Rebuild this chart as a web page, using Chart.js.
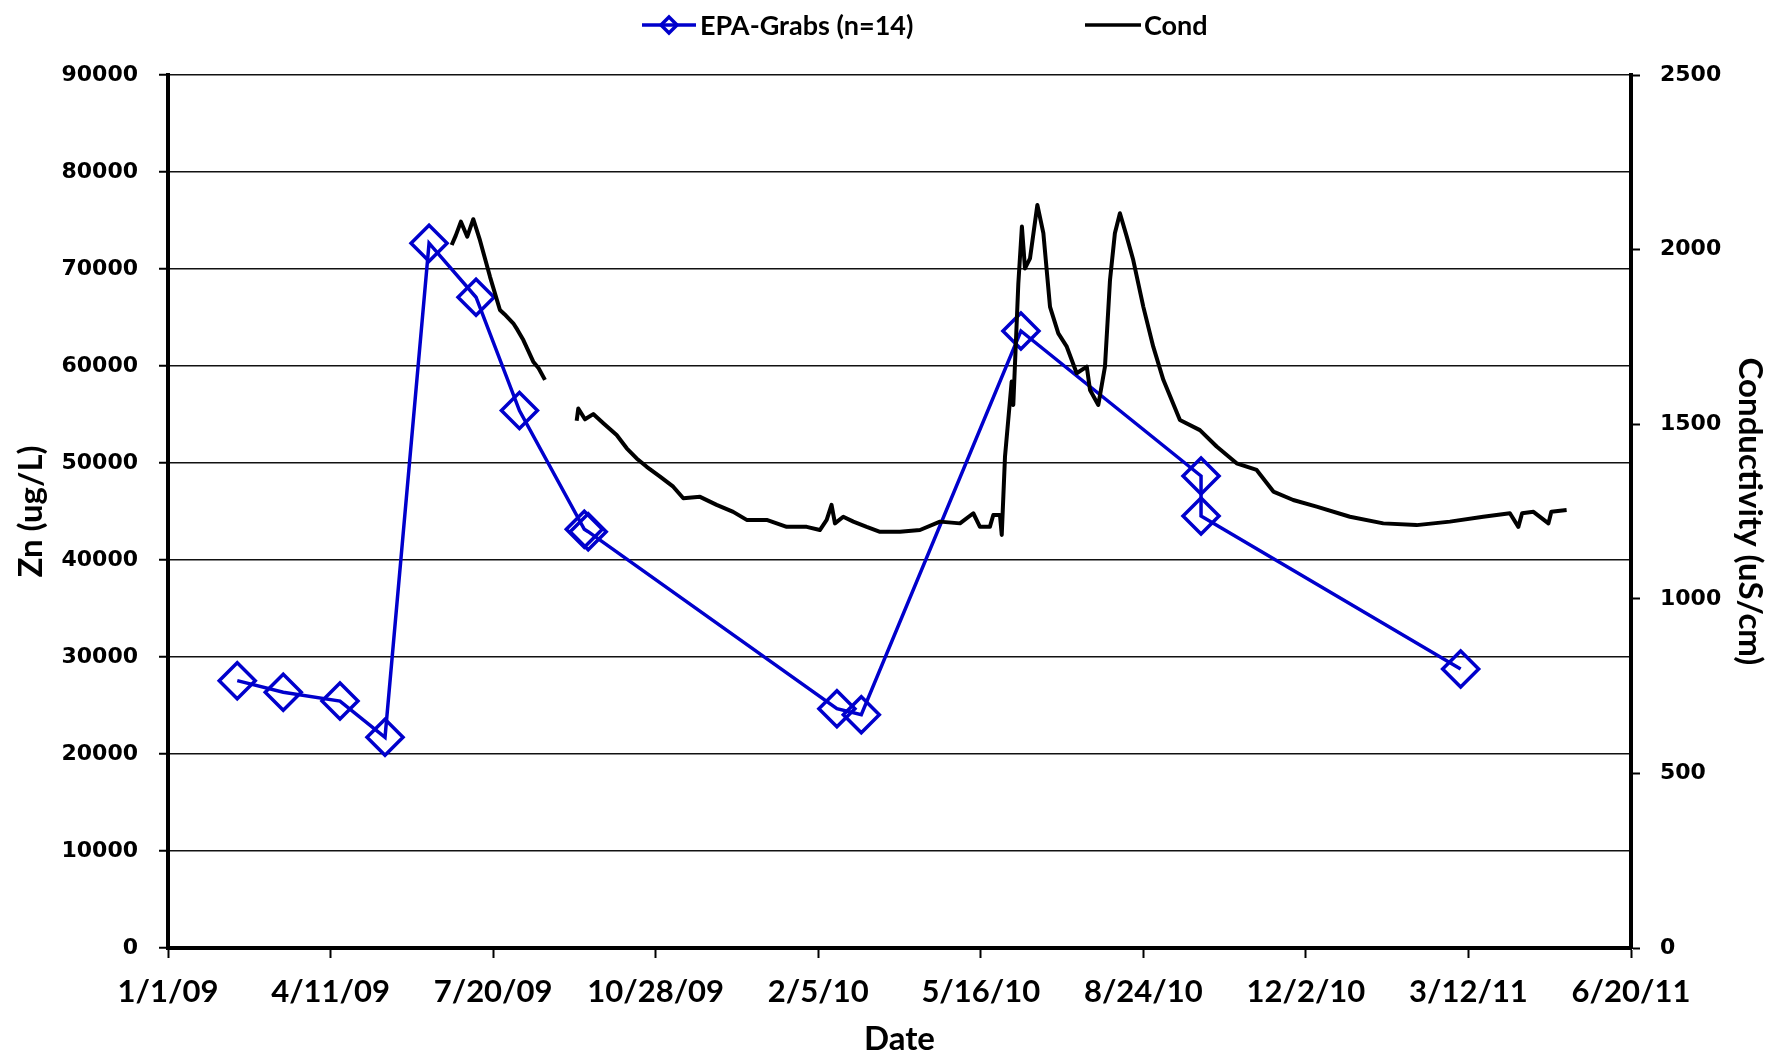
<!DOCTYPE html>
<html>
<head>
<meta charset="utf-8">
<title>Zn and conductivity</title>
<script src="https://cdn.jsdelivr.net/npm/chart.js@4.4.1/dist/chart.umd.min.js"></script>
<style>
  html, body { margin: 0; padding: 0; background: #fff; }
  #wrap { width: 1778px; height: 1056px; }
</style>
</head>
<body>
<div id="wrap"><canvas id="znChart" width="1778" height="1056"></canvas></div>
<script>
// all x values are days since 1/1/09
const xTickStep = 100;
const xMax = 900;

// EPA grab samples (Zn, ug/L)
const grabDays = [42.6, 70.9, 105.8, 133.5, 160.6, 189.5, 216.2, 256.1, 258.5, 411.5, 426.5, 524.7, 635.5, 635.5, 795.2];
const grabZn = [27560, 26360, 25460, 21720, 72660, 67090, 55410, 43170, 42920, 24670, 24050, 63610, 48660, 44540, 28760];

// continuous conductivity logger (uS/cm), null = gap in record
const condDays = [
  174.5, 177, 180.2, 184.1, 187.8, 191.9, 198.1, 204.2, 207, 212.4, 215, 218.6, 224.7, 228, 231.9,
  241,
  251.4, 252.4, 256.5, 261.6, 267.8, 276, 282.2, 288.3, 294.5, 302.7, 310.8, 317,
  327.3, 337.5, 347.7, 356, 368.3, 380.6, 392.9, 401, 405.2, 408.2, 410.3, 415.4,
  421.6, 429.8, 438, 450.3, 462.6, 474.9, 487.2, 495.4, 499.5, 505.6, 507.7, 511.8,
  512.9, 514.9, 519, 520, 523.1, 525.3, 527.2, 530.3, 534.8, 538.5, 542.6, 547.7,
  552.9, 559, 565.2, 567.2, 572.3, 576.4, 579.5, 582.5, 585.6, 589.8, 593.8, 600,
  606.1, 612.3, 622.5, 634.8, 645.1, 657.4, 669.7, 680, 692.2, 706.6, 727.1, 747.6,
  768.1, 788.6, 809.1, 825.5, 830.7, 833, 840, 849.2, 851, 860.4
];
const condValues = [
  2013, 2040, 2080, 2037, 2087, 2027, 1922, 1827, 1815, 1789, 1770, 1741, 1679, 1660, 1627,
  null,
  1510, 1545, 1514, 1529, 1503, 1469, 1431, 1402, 1378, 1350, 1321, 1288,
  1292, 1269, 1249, 1226, 1226, 1206, 1206, 1197, 1226, 1269, 1216, 1235,
  1221, 1206, 1192, 1192, 1197, 1221, 1216, 1245, 1206, 1206, 1240, 1240,
  1183, 1407, 1622, 1555, 1903, 2066, 1946, 1975, 2128, 2047, 1836, 1760,
  1722, 1646, 1665, 1598, 1555, 1665, 1913, 2047, 2104, 2037, 1970, 1836,
  1722, 1627, 1512, 1483, 1436, 1388, 1369, 1307, 1283, 1264, 1235, 1216,
  1211, 1221, 1235, 1245, 1206, 1245, 1249, 1216, 1249, 1254
];

const grabColor = "#0000CC";
const titleFont = { family: "Lato, 'Liberation Sans', sans-serif", size: 33, weight: "bold", lineHeight: 1 };
const tickFont = { family: "'DejaVu Sans', sans-serif", size: 22, weight: "bold" };

function dayLabel(day) {
  const d = new Date(Date.UTC(2009, 0, 1) + day * 86400000);
  return (d.getUTCMonth() + 1) + "/" + d.getUTCDate() + "/" + String(d.getUTCFullYear()).slice(2);
}

// legend drawn above the plot, as in the original
const topLegend = {
  id: "topLegend",
  afterDraw(chart) {
    const ctx = chart.ctx;
    const y = 25;
    ctx.save();
    ctx.font = "bold 27px Lato, 'Liberation Sans', sans-serif";
    ctx.textBaseline = "middle";
    ctx.fillStyle = "#000";

    ctx.strokeStyle = grabColor;
    ctx.lineWidth = 3.5;
    ctx.beginPath();
    ctx.moveTo(642, y);
    ctx.lineTo(696, y);
    ctx.stroke();
    ctx.beginPath();
    ctx.moveTo(661, y);
    ctx.lineTo(669, y - 8);
    ctx.lineTo(677, y);
    ctx.lineTo(669, y + 8);
    ctx.closePath();
    ctx.stroke();
    ctx.fillText("EPA-Grabs (n=14)", 700, y + 1);

    ctx.strokeStyle = "#000";
    ctx.beginPath();
    ctx.moveTo(1085, y);
    ctx.lineTo(1141, y);
    ctx.stroke();
    ctx.fillText("Cond", 1144, y + 1);
    ctx.restore();
  }
};

const ctx = document.getElementById("znChart").getContext("2d");
new Chart(ctx, {
  type: "line",
  data: {
    datasets: [
      {
        label: "EPA-Grabs (n=14)",
        data: grabDays.map((d, i) => ({ x: d, y: grabZn[i] })),
        yAxisID: "y",
        borderColor: grabColor,
        borderWidth: 3.5,
        pointStyle: "rectRot",
        pointRadius: 18,
        pointBorderWidth: 3.5,
        pointBorderColor: grabColor,
        pointBackgroundColor: "rgba(0,0,0,0)",
        tension: 0,
        order: 2,
      },
      {
        label: "Cond",
        data: condDays.map((d, i) => ({ x: d, y: condValues[i] })),
        yAxisID: "y1",
        borderColor: "#000",
        borderWidth: 4,
        borderJoinStyle: "round",
        pointRadius: 0,
        spanGaps: false,
        tension: 0,
        order: 1,
      },
    ],
  },
  options: {
    responsive: false,
    animation: false,
    devicePixelRatio: 1,
    layout: { padding: { top: 75, left: 0, right: 0, bottom: 0 } },
    plugins: {
      legend: { display: false },
      tooltip: { enabled: false },
    },
    scales: {
      x: {
        type: "linear",
        min: 0,
        max: xMax,
        afterFit: (s) => { s.height = 108; },
        border: { display: true, color: "#000", width: 4 },
        grid: { drawOnChartArea: false, drawTicks: true, tickLength: 10, tickColor: "#000", tickWidth: 2 },
        ticks: {
          stepSize: xTickStep,
          padding: 15,
          color: "#000",
          maxRotation: 0,
          font: { family: "Lato, 'Liberation Sans', sans-serif", size: 31, weight: "bold" },
          callback: (v) => dayLabel(v),
        },
        title: { display: true, text: "Date", color: "#000", font: titleFont, padding: { top: 0, bottom: 0 } },
      },
      y: {
        position: "left",
        min: 0,
        max: 90000,
        afterFit: (s) => { s.width = 168; },
        border: { display: true, color: "#000", width: 4 },
        grid: { color: "#111", lineWidth: 1.5, drawTicks: true, tickLength: 9, tickColor: "#000", tickWidth: 2 },
        ticks: {
          stepSize: 10000,
          padding: 21,
          color: "#000",
          font: tickFont,
          callback: (v) => String(v),
        },
        title: { display: true, text: "Zn (ug/L)", color: "#000", font: titleFont, padding: { top: 15, bottom: 0 } },
      },
      y1: {
        position: "right",
        min: 0,
        max: 2500,
        afterFit: (s) => { s.width = 147; },
        border: { display: true, color: "#000", width: 4 },
        grid: { drawOnChartArea: false, drawTicks: true, tickLength: 9, tickColor: "#000", tickWidth: 2 },
        ticks: {
          stepSize: 500,
          padding: 20,
          color: "#000",
          font: tickFont,
          callback: (v) => String(v),
        },
        title: { display: true, text: "Conductivity (uS/cm)", color: "#000", font: titleFont, padding: { top: 12, bottom: 0 } },
      },
    },
  },
  plugins: [topLegend],
});
</script>
</body>
</html>
